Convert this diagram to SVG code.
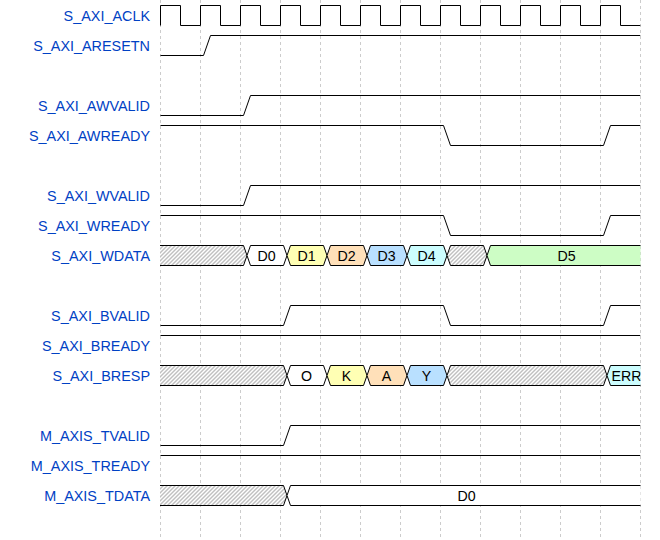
<svg xmlns="http://www.w3.org/2000/svg" width="660" height="540" viewBox="0 0 660 540">
<style>
.lbl{font-family:"Liberation Sans",Arial,sans-serif;font-size:14.4px;fill:#0041c4;text-anchor:end}
.dt{font-family:"Liberation Sans",Arial,sans-serif;font-size:14.2px;fill:#000;text-anchor:middle}
.w{fill:none;stroke:#000;stroke-width:1}
.b{stroke:#000;stroke-width:1}
.grid{stroke:#ccc;stroke-width:1;stroke-dasharray:3,3}
</style>
<defs>
<pattern id="hatch" patternUnits="userSpaceOnUse" width="4" height="4">
<rect width="4" height="4" fill="#fff"/>
<path d="M-1,1 L1,-1 M0,4 L4,0 M3,5 L5,3" stroke="#555" stroke-width="0.75"/>
</pattern>
<clipPath id="area"><rect x="160" y="0" width="480.5" height="540"/></clipPath>
</defs>
<rect width="660" height="540" fill="#fff"/>
<g id="grid">
<path class="grid" d="M160.5,0V540M200.5,0V540M240.5,0V540M280.5,0V540M320.5,0V540M360.5,0V540M400.5,0V540M440.5,0V540M480.5,0V540M520.5,0V540M560.5,0V540M600.5,0V540M640.5,0V540"/>
</g>
<g id="labels">
<text class="lbl" x="150" y="20.5">S_AXI_ACLK</text>
<text class="lbl" x="150" y="50.5">S_AXI_ARESETN</text>
<text class="lbl" x="150" y="110.5">S_AXI_AWVALID</text>
<text class="lbl" x="150" y="140.5">S_AXI_AWREADY</text>
<text class="lbl" x="150" y="200.5">S_AXI_WVALID</text>
<text class="lbl" x="150" y="230.5">S_AXI_WREADY</text>
<text class="lbl" x="150" y="260.5">S_AXI_WDATA</text>
<text class="lbl" x="150" y="320.5">S_AXI_BVALID</text>
<text class="lbl" x="150" y="350.5">S_AXI_BREADY</text>
<text class="lbl" x="150" y="380.5">S_AXI_BRESP</text>
<text class="lbl" x="150" y="440.5">M_AXIS_TVALID</text>
<text class="lbl" x="150" y="470.5">M_AXIS_TREADY</text>
<text class="lbl" x="150" y="500.5">M_AXIS_TDATA</text>
</g>
<g id="waves" clip-path="url(#area)">
<g transform="translate(0.5,0.5)">
<path id="aclk" class="w" d="M160,25V5H180V25H200V5H220V25H240V5H260V25H280V5H300V25H320V5H340V25H360V5H380V25H400V5H420V25H440V5H460V25H480V5H500V25H520V5H540V25H560V5H580V25H600V5H620V25H640"/>
<path id="aresetn" class="w" d="M160,55H203L210,35H640"/>
<path id="awvalid" class="w" d="M160,115H243L250,95H640"/>
<path id="awready" class="w" d="M160,125H443L450,145H603L610,125H640"/>
<path id="wvalid" class="w" d="M160,205H243L250,185H640"/>
<path id="wready" class="w" d="M160,215H443L450,235H603L610,215H640"/>
<path id="bvalid" class="w" d="M160,325H283L290,305H443L450,325H603L610,305H640"/>
<path id="bready" class="w" d="M160,335H640"/>
<path id="tvalid" class="w" d="M160,445H283L290,425H640"/>
<path id="tready" class="w" d="M160,455H640"/>
<g id="wdata">
<polygon class="b" fill="url(#hatch)" points="150,245 243,245 246.5,255 243,265 150,265"/>
<polygon class="b" fill="#fff" points="246.5,255 250,245 283,245 286.5,255 283,265 250,265"/>
<polygon class="b" fill="#ffffb4" points="286.5,255 290,245 323,245 326.5,255 323,265 290,265"/>
<polygon class="b" fill="#ffe0b9" points="326.5,255 330,245 363,245 366.5,255 363,265 330,265"/>
<polygon class="b" fill="#b9e0ff" points="366.5,255 370,245 403,245 406.5,255 403,265 370,265"/>
<polygon class="b" fill="#ccfdfe" points="406.5,255 410,245 443,245 446.5,255 443,265 410,265"/>
<polygon class="b" fill="url(#hatch)" points="446.5,255 450,245 483,245 486.5,255 483,265 450,265"/>
<polygon class="b" fill="#cdfdc5" points="486.5,255 490,245 650,245 650,265 490,265"/>
</g>
<g id="bresp">
<polygon class="b" fill="url(#hatch)" points="150,365 283,365 286.5,375 283,385 150,385"/>
<polygon class="b" fill="#fff" points="286.5,375 290,365 323,365 326.5,375 323,385 290,385"/>
<polygon class="b" fill="#ffffb4" points="326.5,375 330,365 363,365 366.5,375 363,385 330,385"/>
<polygon class="b" fill="#ffe0b9" points="366.5,375 370,365 403,365 406.5,375 403,385 370,385"/>
<polygon class="b" fill="#b9e0ff" points="406.5,375 410,365 443,365 446.5,375 443,385 410,385"/>
<polygon class="b" fill="url(#hatch)" points="446.5,375 450,365 603,365 606.5,375 603,385 450,385"/>
<polygon class="b" fill="#ccfdfe" points="606.5,375 610,365 650,365 650,385 610,385"/>
</g>
<g id="tdata">
<polygon class="b" fill="url(#hatch)" points="150,485 283,485 286.5,495 283,505 150,505"/>
<polygon class="b" fill="#fff" points="286.5,495 290,485 650,485 650,505 290,505"/>
</g>
</g>
<g id="datatext">
<text class="dt" x="266.5" y="260.5">D0</text>
<text class="dt" x="306.5" y="260.5">D1</text>
<text class="dt" x="346.5" y="260.5">D2</text>
<text class="dt" x="386.5" y="260.5">D3</text>
<text class="dt" x="426.5" y="260.5">D4</text>
<text class="dt" x="566.5" y="260.5">D5</text>
<text class="dt" x="306.5" y="380.5">O</text>
<text class="dt" x="346.5" y="380.5">K</text>
<text class="dt" x="386.5" y="380.5">A</text>
<text class="dt" x="426.5" y="380.5">Y</text>
<text class="dt" x="626.5" y="380.5">ERR</text>
<text class="dt" x="466.5" y="500.5">D0</text>
</g>
</g>
</svg>
